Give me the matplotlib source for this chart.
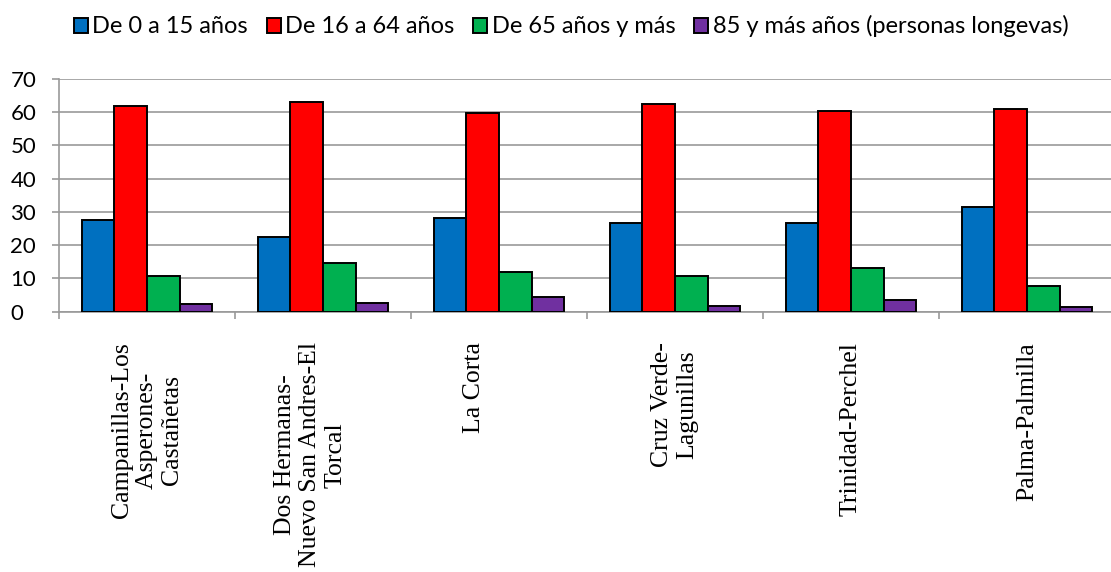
import numpy as np
import matplotlib
matplotlib.use("Agg")
import matplotlib.pyplot as plt

# datos (porcentaje por grupo de edad)
barrios = ["Campanillas-Los\nAsperones-\nCastañetas",
           "Dos Hermanas-\nNuevo San Andres-El\nTorcal\n",
           "La Corta\n\n",
           "Cruz Verde-\nLagunillas",
           "Trinidad-Perchel",
           "Palma-Palmilla"]
series = ["De 0 a 15 años", "De 16 a 64 años", "De 65 años y más",
          "85 y más años (personas longevas)"]
de_0_15 = [27.6, 22.6, 28.3, 26.7, 26.6, 31.4]
de_16_64 = [62.0, 63.1, 59.7, 62.6, 60.4, 61.1]
de_65 = [10.7, 14.6, 12.0, 10.7, 13.2, 7.6]
longevas = [2.3, 2.6, 4.4, 1.7, 3.4, 1.5]
colores = ["#0070C0", "#FF0000", "#00B050", "#7030A0"]

valores = [de_0_15, de_16_64, de_65, longevas]

fig = plt.figure(figsize=(11.11, 5.72), dpi=100)
ax = fig.add_axes([59 / 1111, 1 - 311.7 / 572, 1056 / 1111, 232.7 / 572])

x = np.arange(len(barrios))
w = 0.185
for i, (vals, nombre, c) in enumerate(zip(valores, series, colores)):
    ax.bar(x + (i - 1.5) * w, vals, w, color=c, edgecolor="black",
           linewidth=1.4, label=nombre, zorder=3)

ax.set_xlim(-0.5, len(barrios) - 0.5)
ax.set_ylim(0, 70)
ax.set_yticks(range(0, 71, 10))
ax.yaxis.grid(True, color="#999999", linewidth=1.2, zorder=0)

for s in ["top", "right"]:
    ax.spines[s].set_visible(False)
for s in ["left", "bottom"]:
    ax.spines[s].set_color("#999999")
    ax.spines[s].set_linewidth(1.2)

ax.tick_params(axis="y", length=5, width=1.2, color="#999999", pad=30,
               labelsize=16)
for lab in ax.get_yticklabels():
    lab.set_horizontalalignment("left")
    lab.set_fontfamily("Lato")

ax.set_xticks(x)
ax.set_xticklabels(barrios, rotation=90, ha="center", va="top",
                   multialignment="center", fontfamily="Liberation Serif",
                   fontsize=18.5)
ax.set_xticks(np.arange(-0.5, len(barrios)), minor=True)
ax.tick_params(axis="x", which="major", length=0, pad=22)
ax.tick_params(axis="x", which="minor", length=5, width=1.2, color="#999999")

leg = fig.legend(loc="center", bbox_to_anchor=(0.514, 0.954), ncol=4,
                 frameon=False, handlelength=0.6, handleheight=0.6,
                 handletextpad=0.18, columnspacing=0.8,
                 prop={"family": "Lato", "size": 17})

fig.savefig("out.png", dpi=100)
